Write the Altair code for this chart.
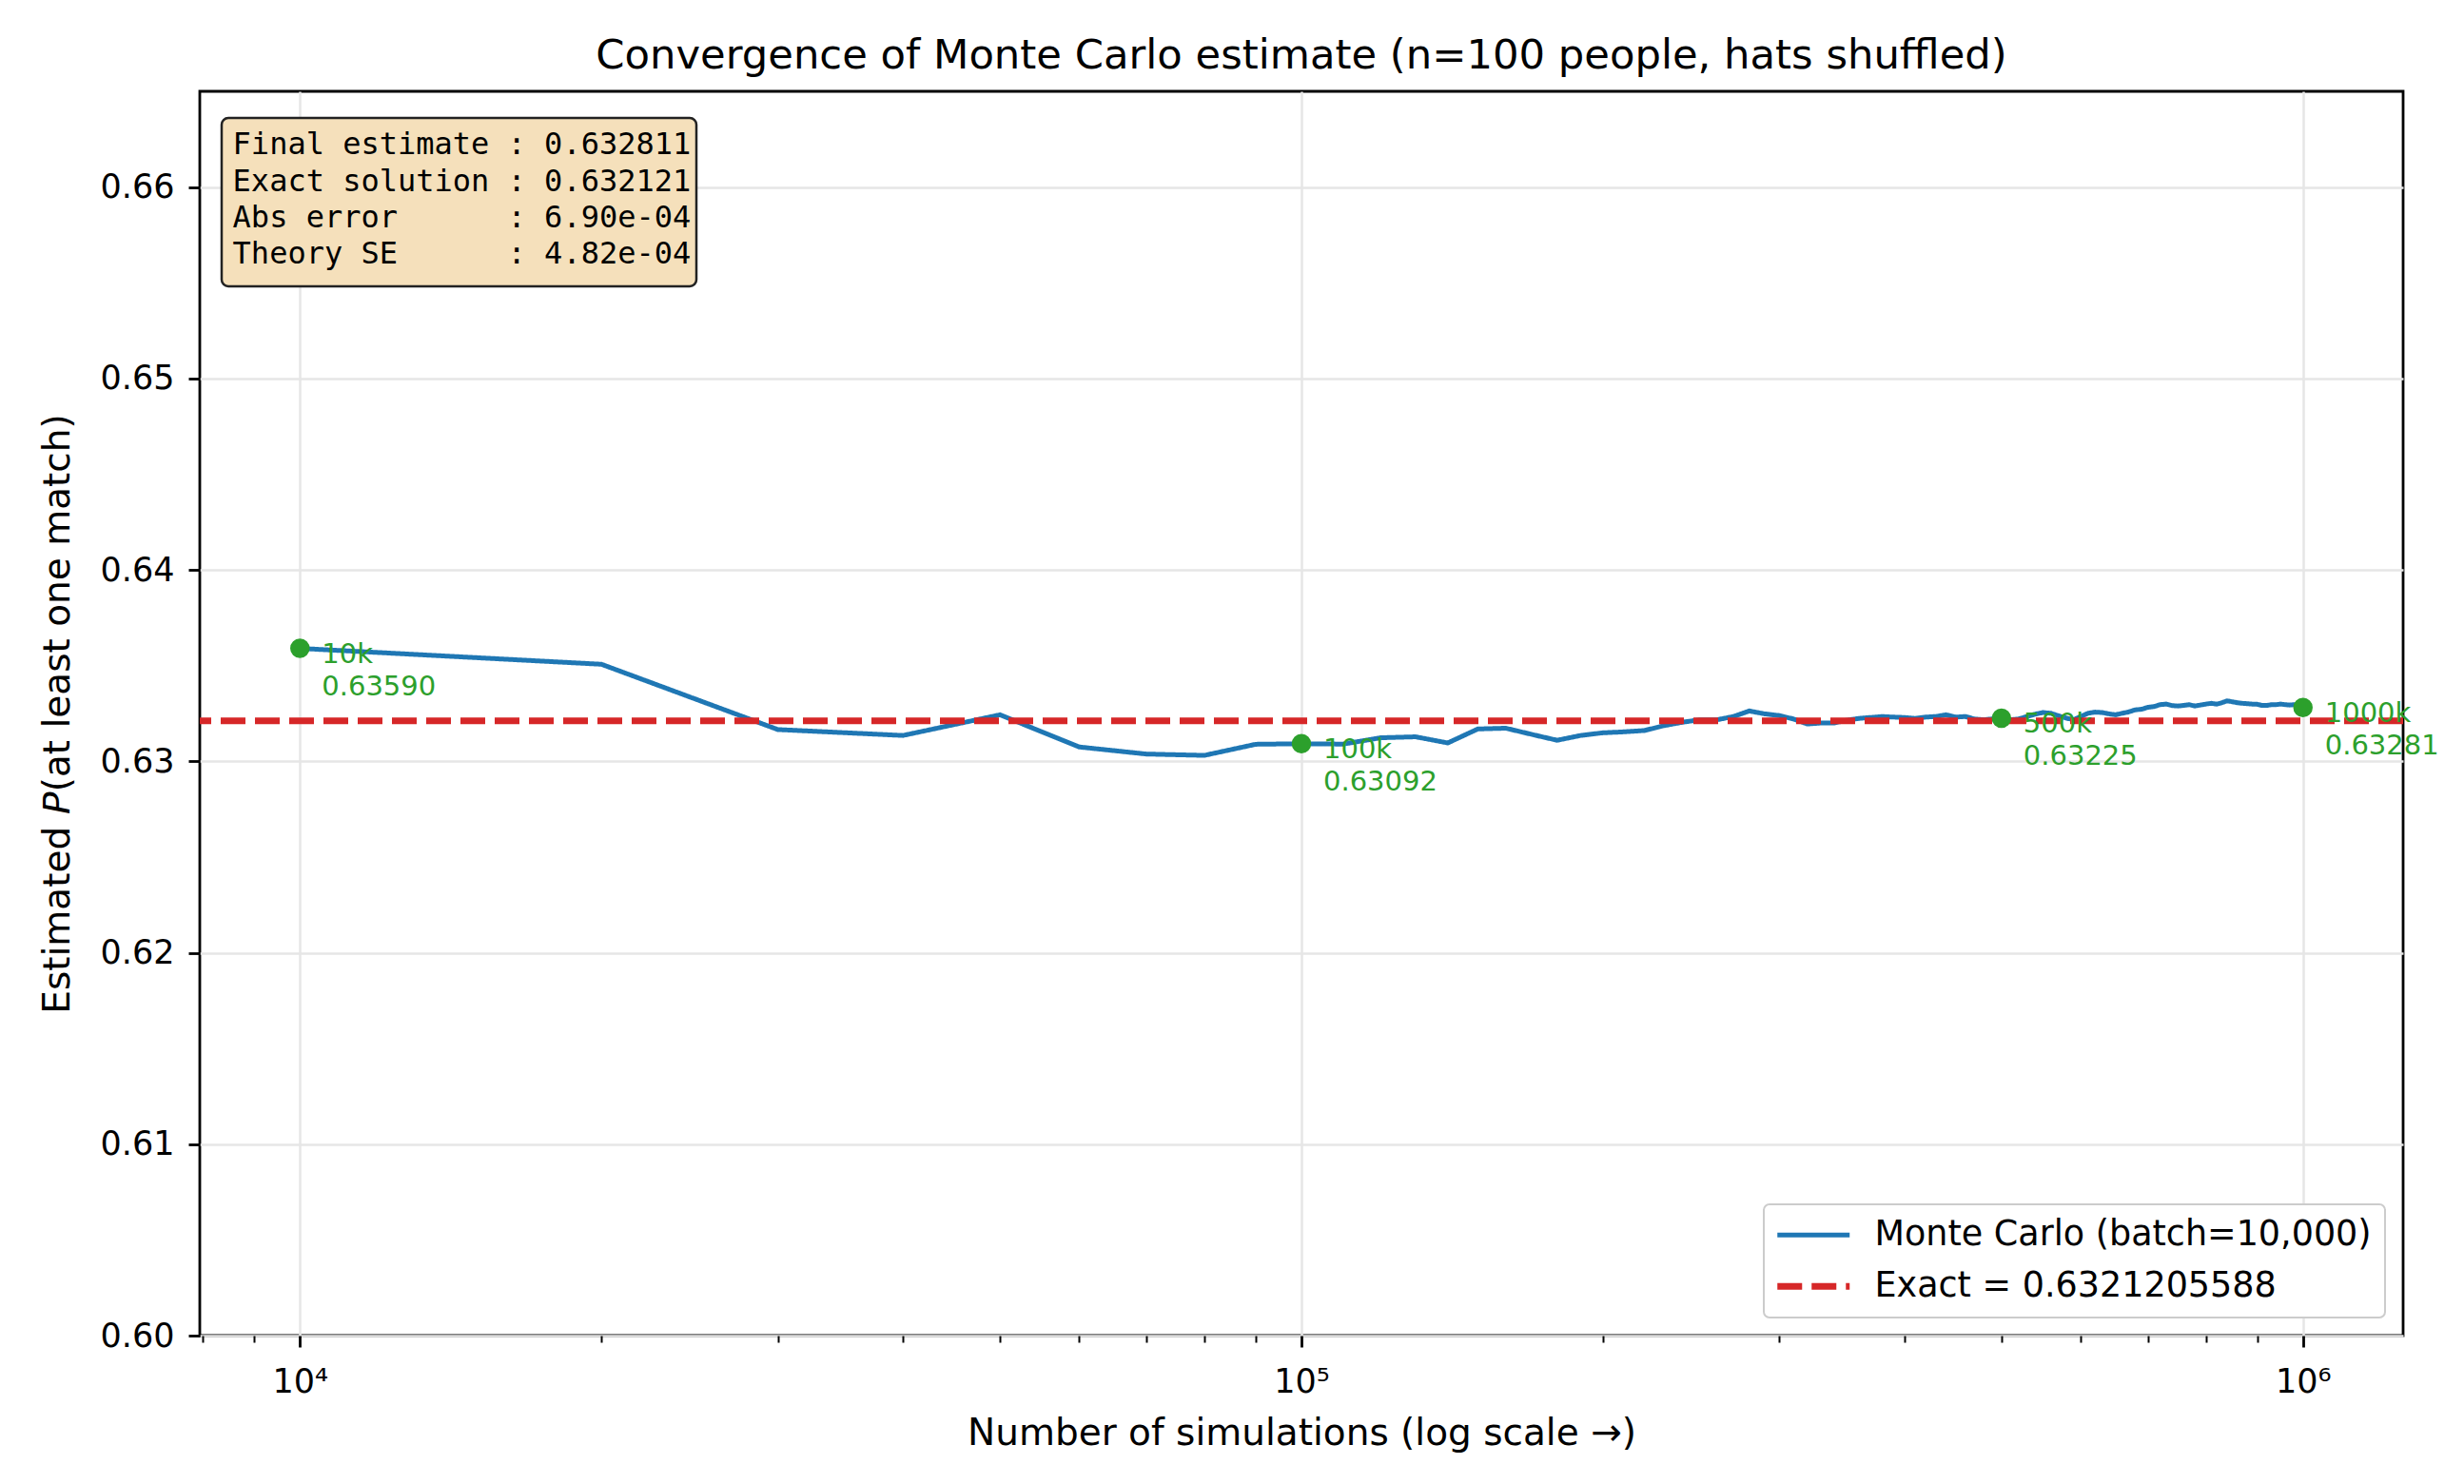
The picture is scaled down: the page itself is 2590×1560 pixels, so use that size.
import altair as alt
import pandas as pd

# ---------------- data ----------------
n_sims = list(range(10000, 1000001, 10000))
mc_estimate = [
    0.63590, 0.63507, 0.63166, 0.63135, 0.63243, 0.63075, 0.63038, 0.63031, 0.63089, 0.63092,
    0.63090, 0.63123, 0.63128, 0.63096, 0.63169, 0.63173, 0.63140, 0.63110, 0.63135, 0.63149,
    0.63154, 0.63161, 0.63186, 0.63204, 0.63217, 0.63217, 0.63234, 0.63263, 0.63248, 0.63239,
    0.63221, 0.63195, 0.63200, 0.63200, 0.63214, 0.63224, 0.63229, 0.63234, 0.63231, 0.63229,
    0.63224, 0.63231, 0.63234, 0.63243, 0.63231, 0.63234, 0.63221, 0.63217, 0.63222, 0.63225,
    0.63217, 0.63221, 0.63234, 0.63246, 0.63255, 0.63251, 0.63238, 0.63226, 0.63217, 0.63234,
    0.63251, 0.63257, 0.63255, 0.63248, 0.63243, 0.63251, 0.63258, 0.63269, 0.63272, 0.63282,
    0.63286, 0.63296, 0.63299, 0.63291, 0.63289, 0.63292, 0.63296, 0.63289, 0.63294, 0.63299,
    0.63303, 0.63299, 0.63306, 0.63316, 0.63311, 0.63306, 0.63303, 0.63301, 0.63299, 0.63298,
    0.63292, 0.63292, 0.63296, 0.63296, 0.63299, 0.63296, 0.63294, 0.63296, 0.63293, 0.63281,
]
exact_value = 0.6321205588
marker_n = [10000, 100000, 500000, 1000000]
marker_names = ["10k", "100k", "500k", "1000k"]
marker_values = [0.63590, 0.63092, 0.63225, 0.63281]

x_major_ticks = [10000, 100000, 1000000]
x_minor_ticks = [8000, 9000,
                 20000, 30000, 40000, 50000, 60000, 70000, 80000, 90000,
                 200000, 300000, 400000, 500000, 600000, 700000, 800000, 900000]
y_ticks = [0.60, 0.61, 0.62, 0.63, 0.64, 0.65, 0.66]

box_keys = ["Final estimate", "Exact solution", "Abs error", "Theory SE"]
box_vals = ["0.632811", "0.632121", "6.90e-04", "4.82e-04"]

series_mc = "Monte Carlo (batch=10,000)"
series_ex = f"Exact = {exact_value:.10f}"

BLUE = "#1f77b4"
RED = "#d62728"
GREEN = "#2ca02c"
FONT = "DejaVu Sans"
NBSP = "\u00a0"
ITALIC_P = "\U0001D617"

# ---------------- tables ----------------
df_line = pd.DataFrame({"n": n_sims, "p": mc_estimate, "series": series_mc})
df_exact = pd.DataFrame({"p": [exact_value], "series": [series_ex]})
df_mark = pd.DataFrame({
    "n": marker_n,
    "p": marker_values,
    "label": [f"{nm}\n{v:.5f}" for nm, v in zip(marker_names, marker_values)],
})
box_lines = [f"{k:<14} : {v}".replace(" ", NBSP) for k, v in zip(box_keys, box_vals)]
df_box = pd.DataFrame({"text": ["\n".join(box_lines)]})

# ---------------- scales / axes ----------------
xscale = alt.Scale(type="log", domain=[7943.28, 1258925.4], nice=False)
yscale = alt.Scale(domain=[0.60, 0.665], nice=False, zero=False)

x_axis_major = alt.Axis(
    values=x_major_ticks,
    labelExpr="datum.value == 10000 ? '10⁴' : datum.value == 100000 ? '10⁵' : '10⁶'",
    tickSize=12, tickWidth=2.8, labelFontSize=35, labelPadding=47,
    labelBaseline="alphabetic", labelFlush=False, labelOverlap=False,
    title="Number of simulations (log scale →)", titleFontSize=39,
    titleBaseline="alphabetic", titleY=114, grid=True, orient="bottom",
)
x_axis_minor = alt.Axis(
    values=x_minor_ticks, labels=False, tickSize=7, tickWidth=2,
    grid=False, domain=False, title=None, orient="bottom",
)
y_axis = alt.Axis(
    values=y_ticks, format=".2f", tickSize=12, tickWidth=2.8,
    labelFontSize=35, labelPadding=15, grid=True,
    title=f"Estimated {ITALIC_P}(at least one match)", titleFontSize=39,
    titleAngle=270, titleX=-138, titleY=654, titleAlign="center",
    titleBaseline="alphabetic",
)

Y = alt.Y("p:Q", scale=yscale, axis=y_axis)
sdom = [series_mc, series_ex]
leg = alt.Legend(title=None)
color = alt.Color("series:N", scale=alt.Scale(domain=sdom, range=[BLUE, RED]), legend=leg)
dash = alt.StrokeDash("series:N", scale=alt.Scale(domain=sdom, range=[[1, 0], [26, 10]]), legend=leg)
width_enc = alt.StrokeWidth("series:N", scale=alt.Scale(domain=sdom, range=[5, 7]), legend=leg)

line = alt.Chart(df_line).mark_line().encode(
    x=alt.X("n:Q", scale=xscale, axis=x_axis_major),
    y=Y, color=color, strokeDash=dash, strokeWidth=width_enc,
)
rule = alt.Chart(df_exact).mark_rule().encode(
    y=Y, color=color, strokeDash=dash, strokeWidth=width_enc,
)
points = alt.Chart(df_mark).mark_point(filled=True, size=420, opacity=1, color=GREEN).encode(
    x=alt.X("n:Q", scale=xscale, axis=x_axis_minor), y=Y,
)
labels = alt.Chart(df_mark).mark_text(
    align="left", baseline="alphabetic", dx=23, dy=15, lineBreak="\n",
    lineHeight=34, fontSize=29, font=FONT, color=GREEN,
).encode(x=alt.X("n:Q", scale=xscale, axis=None), y=Y, text="label:N")

box = alt.Chart(df_box).mark_rect(
    cornerRadius=7, fill="#f5e0bb", stroke="#222222", strokeWidth=2.5,
).encode(x=alt.value(23), x2=alt.value(522), y=alt.value(28), y2=alt.value(205))
box_text = alt.Chart(df_box).mark_text(
    font="DejaVu Sans Mono", fontSize=32, lineBreak="\n", lineHeight=38.3,
    align="left", baseline="alphabetic", color="black",
).encode(x=alt.value(34.6), y=alt.value(66.3), text="text:N")

chart = alt.layer(line, rule, points, labels, box, box_text).resolve_axis(
    x="independent"
).properties(
    width=2316, height=1308,
    autosize=alt.AutoSizeParams(type="none"),
    padding={"left": 202, "top": 88, "right": 48, "bottom": 140},
    background="white",
    title=alt.TitleParams(
        text="Convergence of Monte Carlo estimate (n=100 people, hats shuffled)",
        fontSize=43.3, font=FONT, fontWeight="normal", anchor="middle",
        frame="group", baseline="alphabetic", offset=23, dy=42, color="black",
    ),
).configure_view(
    stroke="black", strokeWidth=2.8,
).configure_axis(
    labelFont=FONT, titleFont=FONT, labelColor="black", titleColor="black",
    tickColor="black", domain=False, gridColor="#e6e6e6", gridWidth=2.5,
    titleFontWeight="normal",
).configure_legend(
    orient="bottom-right", offset=19, padding=14, rowPadding=17,
    labelFont=FONT, labelFontSize=36.5, labelColor="black",
    labelOffset=46, symbolOffset=20,
    labelLimit=2000, symbolType="M-2.62,0H2.62", symbolSize=841, fillColor="white",
    strokeColor="#cccccc", strokeWidth=2, cornerRadius=6,
)

chart.save("out.html", embed_options={"renderer": "svg", "actions": False})
